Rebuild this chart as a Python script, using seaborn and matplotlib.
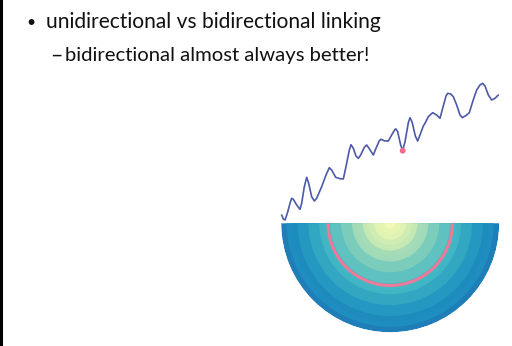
import numpy as np
import pandas as pd
import matplotlib
matplotlib.use("Agg")
import matplotlib.pyplot as plt
import seaborn as sns

# ---- data ----
heading = "unidirectional vs bidirectional linking"
subpoint = "bidirectional almost always better!"

t_vals = [0.67, 2.33, 4, 6.33, 9, 10.67, 12.33, 15.67, 19, 20.67, 23.33, 25.67, 27.67,
          30.67, 33.33, 35.67, 40.67, 45, 48.33, 50.67, 54.67, 59, 62.33, 65.67, 68.33,
          70, 72.33, 75, 77.33, 79.67, 83.33, 85.67, 88, 92.33, 95, 98.33, 100, 104,
          107.33, 110.67, 114, 115, 116.67, 119.67, 121.67, 124, 127.33, 129, 131,
          134.33, 136.67, 139, 142.33, 144, 147.33, 151.67, 155.67, 159, 161.67, 165,
          166.67, 169.67, 172.33, 175.67, 179, 181.33, 185.67, 188.33, 191.67, 195.67,
          199, 201.67, 204, 207.33, 210.67, 214, 217.33]
y_vals = [6, 2, 1, 7.7, 17.7, 22.7, 21.7, 16, 11.7, 17.7, 34.3, 43.7, 37.7,
          24.3, 20, 22.7, 34.3, 46, 53.3, 51, 43.7, 42.3, 42, 57.7, 71,
          76.3, 72.7, 65, 62.7, 66, 73.7, 76, 72.7, 66, 72.7, 80.3, 81.7, 80,
          80, 86, 91.7, 92, 89.3, 76, 70.3, 79.3, 98.3, 103.3, 99.3,
          85, 80, 86, 95, 97.7, 104.3, 108.3, 106, 102.7, 112.7, 125,
          127.7, 127, 124.3, 116, 106, 103.3, 106, 108.3, 119.3, 131,
          136, 137.7, 135, 126, 121, 122.7, 126]
highlight_t = 121.67

ring_levels = [0.10, 0.15, 0.17, 0.23, 0.25, 0.31, 0.32, 0.38, 0.38, 0.44,
               0.44, 0.49, 0.50, 0.55, 0.55, 0.60, 0.60, 0.64, 0.63, 0.67]
ring_highlight = 0.57  # fraction of radius

sns.set_theme(style="white")
plt.rcParams['font.family'] = ['Lato', 'DejaVu Sans']

W, H = 512, 346
fig = plt.figure(figsize=(W / 100, H / 100), dpi=100)
fig.patch.set_facecolor("white")

# left border
fig.add_artist(plt.Line2D([1.2 / W, 1.2 / W], [0, 1], transform=fig.transFigure,
                          color="black", lw=2.2))

# texts
fig.text(26.5 / W, 1 - 27 / H, "•", fontsize=11.5, va="baseline", ha="left", color="#111111")
fig.text(46 / W, 1 - 28.5 / H, heading, fontsize=15.1, va="baseline", ha="left", color="#111111")
fig.text(50.5 / W, 1 - 62 / H, "–", fontsize=15.5, va="baseline", ha="left", color="#111111")
fig.text(65 / W, 1 - 61.5 / H, subpoint, fontsize=14.6, va="baseline", ha="left", color="#111111")

# line chart
ax = fig.add_axes([281 / W, 1 - 221 / H, 218 / W, 139 / H])
df = pd.DataFrame({"t": t_vals, "y": y_vals})
sns.lineplot(data=df, x="t", y="y", ax=ax, color="#4d5aa6", lw=1.2, clip_on=False)
hi = df[df["t"] == highlight_t]
ax.scatter(hi["t"], hi["y"], s=18, color="#f06a8a", zorder=5, clip_on=False,
           edgecolor="none")
ax.set_xlim(0, 218)
ax.set_ylim(0, 139)
ax.axis("off")

# half disc of concentric rings (bottom half of a polar axes)
R = 1.0
n = len(ring_levels)
cmap = plt.get_cmap("YlGnBu")
cx, cy, rad = 390.2, 223.3, 109.0
pax = fig.add_axes([(cx - rad) / W, 1 - (cy + rad) / H, 2 * rad / W, 2 * rad / H],
                   projection="polar")
dr = R / n
for i in range(n - 1, -1, -1):
    pax.bar(1.5 * np.pi, (i + 1) * dr, width=np.pi, bottom=0, color=cmap(ring_levels[i]),
            edgecolor="none", linewidth=0, align="center")
pax.bar(1.5 * np.pi, 0.028, width=np.pi, bottom=ring_highlight - 0.014,
        color="#f07898", edgecolor="none", linewidth=0)
pax.set_rlim(0, R)
pax.axis("off")

fig.savefig("out.png", dpi=100, facecolor="white")
